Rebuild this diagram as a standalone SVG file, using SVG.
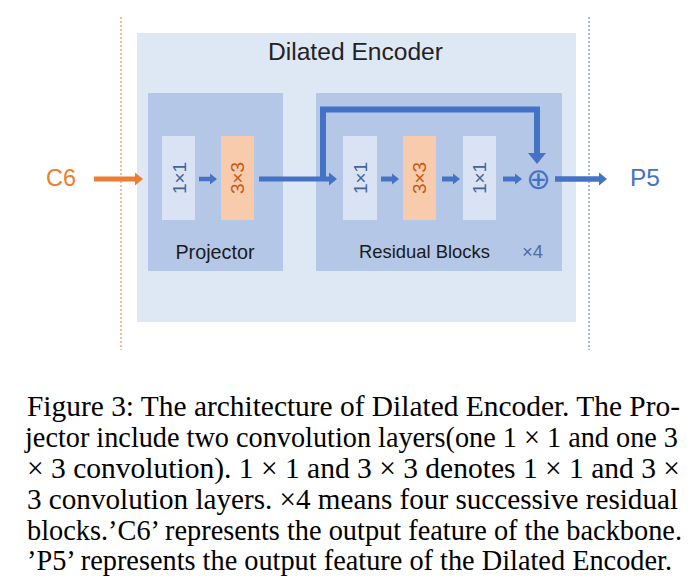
<svg xmlns="http://www.w3.org/2000/svg" width="700" height="583" viewBox="0 0 700 583">
<style>
.sans{font-family:"Liberation Sans",Arial,sans-serif}
.cap{font-family:"Liberation Serif","Times New Roman",serif;font-size:28.5px;fill:#000}
.blue{stroke:#4472C4;fill:none}
.lite{fill:#DAE3F3}
.orng{fill:#F8CBAD}
.lbl1{font-size:19px;fill:#44649C}
.lbl3{font-size:19px;fill:#C55A11}
</style>
<defs>
<marker id="hb" markerUnits="userSpaceOnUse" markerWidth="8" markerHeight="13" refX="0" refY="6.5" orient="auto" overflow="visible"><path d="M0,0 L8,6.5 L0,13 z" fill="#4472C4"/></marker>
<marker id="hbs" markerUnits="userSpaceOnUse" markerWidth="7" markerHeight="11" refX="0" refY="5.5" orient="auto" overflow="visible"><path d="M0,0 L7,5.5 L0,11 z" fill="#4472C4"/></marker>
<marker id="hbl" markerUnits="userSpaceOnUse" markerWidth="11" markerHeight="18" refX="0" refY="9" orient="auto" overflow="visible"><path d="M0,0 L11,9 L0,18 z" fill="#4472C4"/></marker>
<marker id="ho" markerUnits="userSpaceOnUse" markerWidth="8" markerHeight="13" refX="0" refY="6.5" orient="auto" overflow="visible"><path d="M0,0 L8,6.5 L0,13 z" fill="#ED7D31"/></marker>
</defs>
<rect width="700" height="583" fill="#FFFFFF"/>
<line x1="121" y1="17" x2="121" y2="350" stroke="#ED7D31" stroke-width="1" stroke-dasharray="2,2"/>
<line x1="589" y1="17" x2="589" y2="350" stroke="#4472C4" stroke-width="1" stroke-dasharray="2,2"/>
<g id="dilated-encoder">
<rect x="137" y="33" width="439" height="289" fill="#DEE8F4"/>
<text class="sans" x="355.5" y="60" font-size="24.6" fill="#222" text-anchor="middle">Dilated Encoder</text>
</g>
<g id="projector">
<rect x="148" y="93" width="135" height="178" fill="#B4C7E7"/>
<text class="sans" x="215" y="259" font-size="19.8" fill="#1a1a1a" text-anchor="middle">Projector</text>
</g>
<g id="residual-blocks">
<rect x="316" y="93" width="246" height="178" fill="#B4C7E7"/>
<text class="sans" x="359" y="258" font-size="18.4" fill="#1a1a1a">Residual Blocks</text>
<text class="sans" x="522" y="258" font-size="18.4" fill="#4F6EA6">×4</text>
</g>
<g id="proj-conv1">
<rect class="lite" x="162" y="136" width="33" height="84"/>
<text class="sans lbl1" transform="translate(179,178) rotate(-90)" text-anchor="middle" dominant-baseline="central">1×1</text>
</g>
<g id="proj-conv3">
<rect class="orng" x="221" y="136" width="33" height="84"/>
<text class="sans lbl3" transform="translate(237.5,178) rotate(-90)" text-anchor="middle" dominant-baseline="central">3×3</text>
</g>
<g id="res-conv1a">
<rect class="lite" x="343" y="136" width="34" height="84"/>
<text class="sans lbl1" transform="translate(360,178) rotate(-90)" text-anchor="middle" dominant-baseline="central">1×1</text>
</g>
<g id="res-conv3">
<rect class="orng" x="403" y="136" width="33" height="84"/>
<text class="sans lbl3" transform="translate(419.5,178) rotate(-90)" text-anchor="middle" dominant-baseline="central">3×3</text>
</g>
<g id="res-conv1b">
<rect class="lite" x="463" y="136" width="33" height="84"/>
<text class="sans lbl1" transform="translate(479.5,178) rotate(-90)" text-anchor="middle" dominant-baseline="central">1×1</text>
</g>
<g id="sum">
<text x="538.3" y="178.5" font-family="DejaVu Sans,sans-serif" font-size="29" fill="#4472C4" text-anchor="middle" dominant-baseline="central">⊕</text>
</g>
<g id="c6">
<text class="sans" x="46" y="186" font-size="23.5" fill="#ED7D31">C6</text>
</g>
<g id="p5">
<text class="sans" x="630" y="186" font-size="24.5" fill="#4472C4">P5</text>
</g>
<g id="connectors">
<line x1="94" y1="179" x2="135" y2="179" stroke="#ED7D31" stroke-width="5" marker-end="url(#ho)"/>
<line class="blue" x1="199" y1="179" x2="210" y2="179" stroke-width="4.5" marker-end="url(#hbs)"/>
<line class="blue" x1="259" y1="179" x2="329" y2="179" stroke-width="5" marker-end="url(#hb)"/>
<path class="blue" d="M323,179 V109.5 H537 V153" stroke-width="6" marker-end="url(#hbl)"/>
<line class="blue" x1="381" y1="179" x2="392" y2="179" stroke-width="5" marker-end="url(#hbs)"/>
<line class="blue" x1="442" y1="179" x2="453" y2="179" stroke-width="5" marker-end="url(#hbs)"/>
<line class="blue" x1="503" y1="179" x2="515" y2="179" stroke-width="5" marker-end="url(#hbs)"/>
<line class="blue" x1="555" y1="179" x2="599" y2="179" stroke-width="5.5" marker-end="url(#hb)"/>
</g>
<g id="caption">
<text class="cap" x="27" y="416" textLength="653" lengthAdjust="spacingAndGlyphs">Figure 3: The architecture of Dilated Encoder. The Pro-</text>
<text class="cap" x="25" y="447" textLength="653" lengthAdjust="spacingAndGlyphs">jector include two convolution layers(one 1 × 1 and one 3</text>
<text class="cap" x="27" y="478" textLength="653" lengthAdjust="spacingAndGlyphs">× 3 convolution). 1 × 1 and 3 × 3 denotes 1 × 1 and 3 ×</text>
<text class="cap" x="27" y="509" textLength="651" lengthAdjust="spacingAndGlyphs">3 convolution layers. ×4 means four successive residual</text>
<text class="cap" x="27" y="540" textLength="655" lengthAdjust="spacingAndGlyphs">blocks.’C6’ represents the output feature of the backbone.</text>
<text class="cap" x="27" y="570" textLength="645" lengthAdjust="spacingAndGlyphs">’P5’ represents the output feature of the Dilated Encoder.</text>
</g>
</svg>
